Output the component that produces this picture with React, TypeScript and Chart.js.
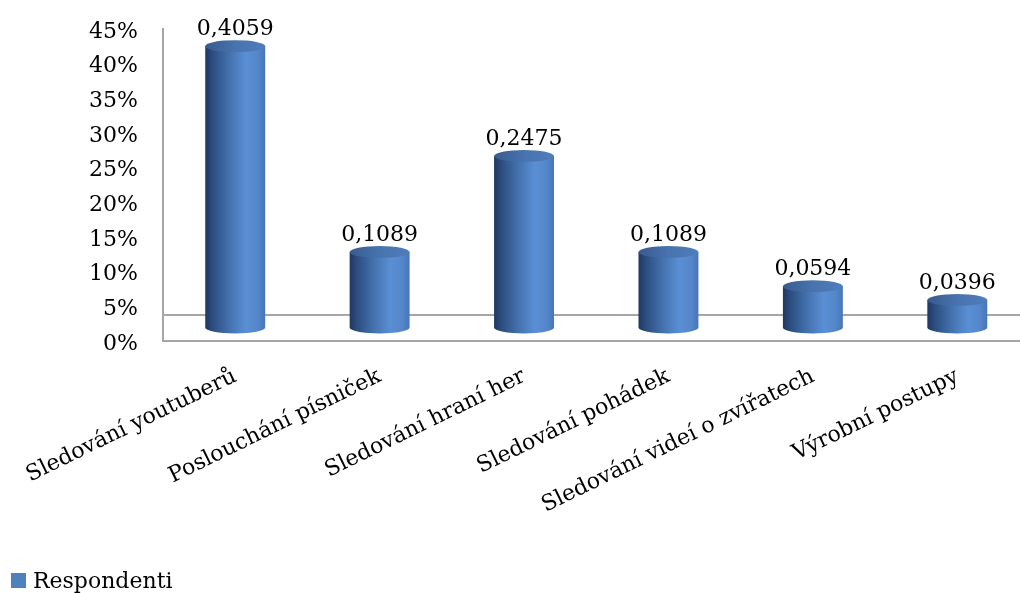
import React, { useEffect, useRef } from 'react';
import { Chart, registerables } from 'chart.js';

Chart.register(...registerables);

// ---- data ----
const categories = [
  'Sledování youtuberů',
  'Poslouchání písniček',
  'Sledování hraní her',
  'Sledování pohádek',
  'Sledování videí o zvířatech',
  'Výrobní postupy',
];
const respondenti = [0.4059, 0.1089, 0.2475, 0.1089, 0.0594, 0.0396];
const seriesLabel = 'Respondenti';
const yMin = 0;
const yMax = 0.45;
const yStep = 0.05;

// ---- styles ----
const FONT_FAMILY = '"DejaVu Serif", "Liberation Serif", serif';
const FONT_SIZE = 22;
const AXIS_GRAY = '#a6a6a6';
const SERIES_COLOR = '#4f81bd';

const fmtValue = (v: number) => v.toFixed(4).replace('.', ',');

const zeroPadding = (scale: any) => {
  scale.paddingLeft = 0;
  scale.paddingRight = 0;
  scale.paddingTop = 0;
  scale.paddingBottom = 0;
};

const cylinderPlugin = {
  id: 'cylinder3d',
  beforeDatasetsDraw(chart: any) {
    const { ctx, chartArea } = chart;
    const { left, top, bottom } = chartArea;
    const w = chart.width;
    ctx.save();
    ctx.strokeStyle = AXIS_GRAY;
    ctx.lineWidth = 2;
    ctx.beginPath();
    ctx.moveTo(left, top + 12.4);
    ctx.lineTo(left, bottom + 13.5);
    ctx.lineTo(w, bottom + 13.5);
    ctx.moveTo(left, bottom - 12.5);
    ctx.lineTo(w, bottom - 12.5);
    ctx.stroke();
    ctx.restore();
  },
  afterDatasetsDraw(chart: any) {
    const { ctx } = chart;
    const meta = chart.getDatasetMeta(0);
    const values = chart.data.datasets[0].data as number[];
    ctx.save();
    meta.data.forEach((el: any, i: number) => {
      const { x, y, base, width } = el.getProps(['x', 'y', 'base', 'width'], true);
      const rx = width / 2;
      const ry = 6;
      const l = x - rx;
      const r = x + rx;
      const g = ctx.createLinearGradient(l, 0, r, 0);
      g.addColorStop(0, '#1f385f');
      g.addColorStop(0.12, '#2c4d7f');
      g.addColorStop(0.4, '#4471ad');
      g.addColorStop(0.68, '#5a8fd5');
      g.addColorStop(0.88, '#5486ca');
      g.addColorStop(1, '#4676b6');
      ctx.beginPath();
      ctx.moveTo(l, y);
      ctx.lineTo(l, base);
      ctx.ellipse(x, base, rx, ry, 0, Math.PI, 0, true);
      ctx.lineTo(r, y);
      ctx.closePath();
      ctx.fillStyle = g;
      ctx.fill();

      const gt = ctx.createLinearGradient(l, 0, r, 0);
      gt.addColorStop(0, '#385b8f');
      gt.addColorStop(0.5, '#4873ae');
      gt.addColorStop(1, '#4f7ebc');
      ctx.beginPath();
      ctx.ellipse(x, y, rx, ry, 0, 0, Math.PI * 2);
      ctx.fillStyle = gt;
      ctx.fill();

      ctx.fillStyle = '#000';
      ctx.font = `${FONT_SIZE}px ${FONT_FAMILY}`;
      ctx.textAlign = 'center';
      ctx.textBaseline = 'alphabetic';
      ctx.fillText(fmtValue(values[i]), x, y - 11);
    });
    ctx.restore();
  },
  afterDraw(chart: any) {
    const { ctx } = chart;
    ctx.save();
    ctx.fillStyle = SERIES_COLOR;
    ctx.fillRect(11, 573, 15, 15);
    ctx.fillStyle = '#000';
    ctx.font = `${FONT_SIZE}px ${FONT_FAMILY}`;
    ctx.textAlign = 'left';
    ctx.textBaseline = 'alphabetic';
    ctx.fillText(chart.data.datasets[0].label, 33, 588);
    ctx.restore();
  },
};

export default function App() {
  const canvasRef = useRef<HTMLCanvasElement | null>(null);

  useEffect(() => {
    if (!canvasRef.current) return;
    const chart = new Chart(canvasRef.current, {
      type: 'bar',
      data: {
        labels: categories,
        datasets: [
          {
            label: seriesLabel,
            data: respondenti,
            backgroundColor: 'rgba(0,0,0,0)',
            borderWidth: 0,
            categoryPercentage: 1,
            barPercentage: 0.415,
          },
        ],
      },
      options: {
        animation: false,
        responsive: false,
        devicePixelRatio: 1,
        layout: {
          autoPadding: false,
          padding: { left: 0, top: 15.6, right: 10.5, bottom: 0 },
        },
        plugins: {
          legend: { display: false },
          tooltip: { enabled: false },
          title: { display: false },
        },
        scales: {
          x: {
            grid: { display: false, drawTicks: false },
            border: { display: false },
            ticks: {
              autoSkip: false,
              minRotation: 26,
              maxRotation: 26,
              padding: 36,
              color: '#000',
              font: { family: FONT_FAMILY, size: FONT_SIZE },
            },
            afterFit: (scale: any) => {
              scale.height = 265.5;
              zeroPadding(scale);
            },
          },
          y: {
            min: yMin,
            max: yMax,
            grid: { display: false, drawTicks: false },
            border: { display: false },
            ticks: {
              stepSize: yStep,
              autoSkip: false,
              padding: 25,
              labelOffset: 16.5,
              color: '#000',
              font: { family: FONT_FAMILY, size: FONT_SIZE },
              callback: (v: any) => `${Math.round(Number(v) * 100)}%`,
            },
            afterFit: (scale: any) => {
              scale.width = 163;
              zeroPadding(scale);
            },
          },
        },
      },
      plugins: [cylinderPlugin],
    });
    return () => chart.destroy();
  }, []);

  return (
    <div
      style={{
        position: 'absolute',
        left: 0,
        top: 0,
        width: 1020,
        height: 593,
        overflow: 'hidden',
        background: '#fff',
      }}
    >
      <canvas ref={canvasRef} width={1040} height={593} />
    </div>
  );
}
